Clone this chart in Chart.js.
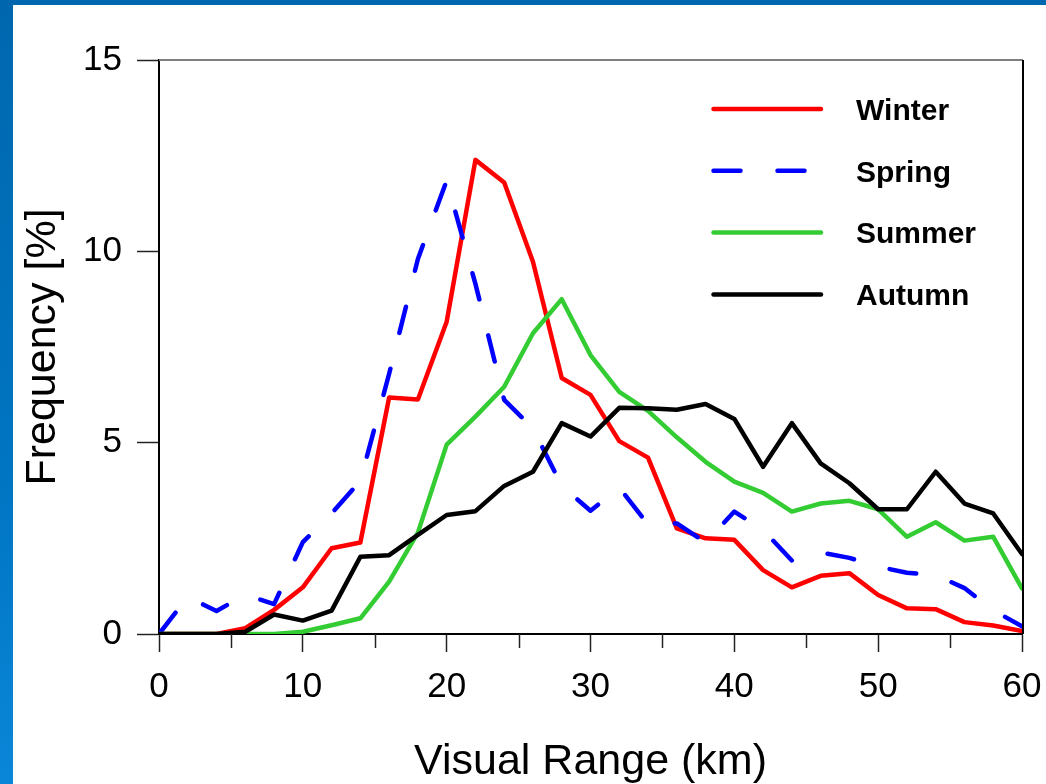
<!DOCTYPE html>
<html>
<head>
<meta charset="utf-8">
<script src="https://cdn.jsdelivr.net/npm/chart.js@4.4.1/dist/chart.umd.min.js"></script>
<style>
  html, body { margin: 0; padding: 0; width: 1046px; height: 784px; overflow: hidden; }
  body { background: linear-gradient(to bottom, #0067ae 0%, #0075c2 60%, #0a86d8 100%); position: relative; }
  #wrap { position: absolute; left: 13px; top: 5px; width: 1033px; height: 779px; background: #ffffff; }
  canvas { display: block; }
</style>
</head>
<body>
<div id="wrap"><canvas id="c" width="1033" height="779"></canvas></div>
<script>
// ---- data ----
const visualRange = [0,2,4,6,8,10,12,14,16,18,20,22,24,26,28,30,32,34,36,38,40,42,44,46,48,50,52,54,56,58,60];
const winter = [0,0,0,0.15,0.63,1.22,2.24,2.39,6.18,6.13,8.16,12.39,11.80,9.73,6.69,6.25,5.04,4.61,2.76,2.50,2.46,1.67,1.22,1.52,1.59,1.02,0.67,0.65,0.31,0.22,0.08];
const spring = [0,0.97,0.60,1.03,0.78,2.40,3.15,4.00,6.80,9.80,11.85,9.15,6.12,5.37,3.87,3.22,3.83,2.86,2.89,2.39,3.20,2.72,1.92,2.13,1.99,1.76,1.60,1.54,1.20,0.62,0.20];
const summer = [0,0,0,0,0,0.06,0.23,0.41,1.37,2.65,4.95,5.68,6.46,7.86,8.75,7.29,6.33,5.83,5.14,4.50,3.98,3.69,3.20,3.41,3.48,3.26,2.54,2.92,2.44,2.54,1.19];
const autumn = [0,0,0,0.06,0.51,0.35,0.61,2.02,2.06,2.59,3.11,3.21,3.87,4.24,5.51,5.16,5.91,5.90,5.86,6.01,5.62,4.37,5.51,4.46,3.94,3.26,3.26,4.24,3.41,3.15,2.09];
const seriesNames = ['Winter','Spring','Summer','Autumn'];
const xTicks = [0,10,20,30,40,50,60];
const xMinorTicks = [5,15,25,35,45,55];
const yTicks = [0,5,10,15];
const xTitle = 'Visual Range (km)';
const yTitle = 'Frequency [%]';

const FONT = "'Liberation Sans', Arial, Helvetica, sans-serif";
const pts = arr => visualRange.map((x, i) => ({x: x, y: arr[i]}));

const styleOf = [
  {color: '#ff0000', dash: []},
  {color: '#0000ff', dash: [27, 37]},
  {color: '#33cc33', dash: []},
  {color: '#000000', dash: []}
];
const values = [winter, spring, summer, autumn];

const datasets = values.map((v, i) => ({
  label: seriesNames[i],
  data: pts(v),
  borderColor: styleOf[i].color,
  backgroundColor: styleOf[i].color,
  borderWidth: 4.5,
  borderDash: styleOf[i].dash,
  borderCapStyle: 'round',
  borderJoinStyle: 'round',
  pointRadius: 0,
  tension: 0,
  fill: false,
  order: 4 - i
}));

const framePlugin = {
  id: 'frame',
  afterDatasetsDraw(chart) {
    const {ctx, chartArea: a, scales: {x}} = chart;
    ctx.save();
    // top border (grey) and right border (black)
    ctx.lineWidth = 2;
    ctx.strokeStyle = '#7f7f7f';
    ctx.beginPath(); ctx.moveTo(a.left, a.top); ctx.lineTo(a.right + 1, a.top); ctx.stroke();
    ctx.strokeStyle = '#000000';
    ctx.beginPath(); ctx.moveTo(a.right + 1, a.top); ctx.lineTo(a.right + 1, a.bottom); ctx.stroke();
    // minor x ticks
    ctx.lineWidth = 1.5;
    ctx.strokeStyle = '#222222';
    xMinorTicks.forEach(v => {
      const px = Math.round(x.getPixelForValue(v)) + 0.5;
      ctx.beginPath(); ctx.moveTo(px, a.bottom); ctx.lineTo(px, a.bottom + 14); ctx.stroke();
    });
    // legend
    const ds = chart.data.datasets;
    const x0 = a.right - 311, x1 = a.right - 201, tx = a.right - 166;
    ctx.font = "bold 30px " + FONT;
    ctx.textBaseline = 'alphabetic';
    ctx.textAlign = 'left';
    ds.forEach((d, i) => {
      const y = a.top + 49 + i * 61.8;
      ctx.lineWidth = d.borderWidth;
      ctx.strokeStyle = d.borderColor;
      ctx.lineCap = 'round';
      ctx.setLineDash(d.borderDash || []);
      ctx.beginPath(); ctx.moveTo(x0 + 2.5, y); ctx.lineTo(x1, y); ctx.stroke();
      ctx.setLineDash([]);
      ctx.fillStyle = '#000000';
      ctx.fillText(d.label, tx, y + 10.7);
    });
    ctx.restore();
  }
};

new Chart(document.getElementById('c'), {
  type: 'line',
  data: { datasets: datasets },
  options: {
    responsive: false,
    devicePixelRatio: 1,
    animation: false,
    layout: { padding: { top: 55, right: 24, left: 0, bottom: 0 } },
    plugins: { legend: { display: false }, tooltip: { enabled: false } },
    scales: {
      x: {
        type: 'linear',
        min: 0, max: 60,
        afterFit: s => { s.height = 150; s.paddingLeft = 0; s.paddingRight = 0; },
        afterBuildTicks: s => { s.ticks = xTicks.map(v => ({value: v})); },
        ticks: {
          color: '#000000',
          font: { family: FONT, size: 35, lineHeight: 1.2 },
          padding: 14,
          maxRotation: 0,
          autoSkip: false
        },
        grid: { drawOnChartArea: false, drawTicks: true, tickLength: 18, tickColor: '#222222', tickWidth: 1.5 },
        border: { display: true, color: '#000000', width: 2 },
        title: {
          display: true, text: xTitle, color: '#000000',
          font: { family: FONT, size: 43, lineHeight: 1 },
          padding: { top: 0, bottom: 0 }
        }
      },
      y: {
        type: 'linear',
        min: 0, max: 15,
        afterFit: s => { s.width = 146; s.paddingTop = 0; s.paddingBottom = 0; },
        afterBuildTicks: s => { s.ticks = yTicks.map(v => ({value: v})); },
        ticks: {
          color: '#000000',
          font: { family: FONT, size: 35, lineHeight: 1.2 },
          padding: 15,
          autoSkip: false
        },
        grid: { drawOnChartArea: false, drawTicks: true, tickLength: 22, tickColor: '#222222', tickWidth: 1.5 },
        border: { display: true, color: '#000000', width: 2 },
        title: {
          display: true, text: yTitle, color: '#000000',
          font: { family: FONT, size: 43, lineHeight: 1 },
          padding: { top: 8.5, bottom: 0 }
        }
      }
    }
  },
  plugins: [framePlugin]
});
</script>
</body>
</html>
